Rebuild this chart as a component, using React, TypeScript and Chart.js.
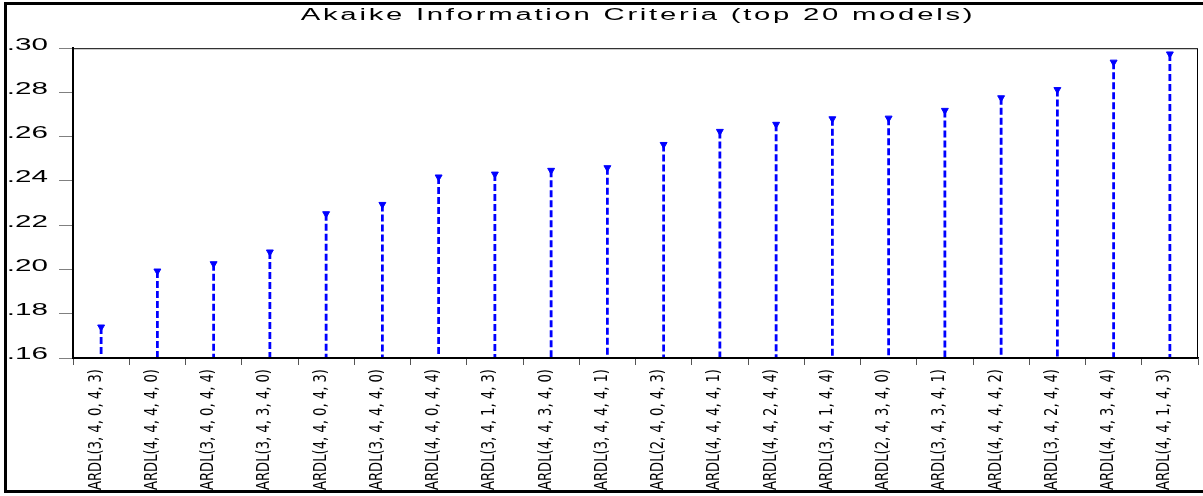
import React, { useEffect, useRef } from 'react';
import { Chart, registerables, LinearScale, CategoryScale } from 'chart.js';

Chart.register(...registerables);

// ---------- data ----------
const models: string[] = [
  'ARDL(3, 4, 0, 4, 3)', 'ARDL(4, 4, 4, 4, 0)', 'ARDL(3, 4, 0, 4, 4)', 'ARDL(3, 4, 3, 4, 0)',
  'ARDL(4, 4, 0, 4, 3)', 'ARDL(3, 4, 4, 4, 0)', 'ARDL(4, 4, 0, 4, 4)', 'ARDL(3, 4, 1, 4, 3)',
  'ARDL(4, 4, 3, 4, 0)', 'ARDL(3, 4, 4, 4, 1)', 'ARDL(2, 4, 0, 4, 3)', 'ARDL(4, 4, 4, 4, 1)',
  'ARDL(4, 4, 2, 4, 4)', 'ARDL(3, 4, 1, 4, 4)', 'ARDL(2, 4, 3, 4, 0)', 'ARDL(3, 4, 3, 4, 1)',
  'ARDL(4, 4, 4, 4, 2)', 'ARDL(3, 4, 2, 4, 4)', 'ARDL(4, 4, 3, 4, 4)', 'ARDL(4, 4, 1, 4, 3)',
];

const aicValues: number[] = [
  0.1740, 0.1993, 0.2026, 0.2079, 0.2252, 0.2294, 0.2418, 0.2431, 0.2448, 0.2460,
  0.2565, 0.2624, 0.2656, 0.2681, 0.2684, 0.2719, 0.2776, 0.2813, 0.2937, 0.2974,
];

const yTickValues: number[] = [0.16, 0.18, 0.20, 0.22, 0.24, 0.26, 0.28, 0.30];
const yMin = 0.16;
const yMax = 0.30;
const titleText = 'Akaike Information Criteria (top 20 models)';

// ---------- styling constants ----------
const TITLE_STRETCH = 1.83;
const TITLE_CENTER_X = 638;
const TITLE_LETTER_SPACING = '1.5px';
const Y_LABEL_STRETCH = 1.85;
const X_LABEL_SQUEEZE = 0.86;

class WideLinearScale extends LinearScale {
  static id = 'wideLinear';
  static defaults = LinearScale.defaults;
  drawLabels(chartArea: any) {
    const ctx = (this as any).ctx as CanvasRenderingContext2D;
    const opts = (this as any).options;
    const x0 = (this as any).right - opts.grid.tickLength - opts.ticks.padding;
    const savedLeft = (this as any).left;
    (this as any).left = -1000;
    ctx.save();
    ctx.translate(x0, 0);
    ctx.scale(Y_LABEL_STRETCH, 1);
    ctx.translate(-x0, 0);
    // @ts-ignore
    super.drawLabels(chartArea);
    ctx.restore();
    (this as any).left = savedLeft;
  }
}

class NarrowCategoryScale extends CategoryScale {
  static id = 'narrowCategory';
  static defaults = CategoryScale.defaults;
  drawLabels(chartArea: any) {
    const ctx = (this as any).ctx as CanvasRenderingContext2D;
    const opts = (this as any).options;
    const y0 = (this as any).top + opts.grid.tickLength + opts.ticks.padding;
    const savedBottom = (this as any).bottom;
    (this as any).bottom = 5000;
    ctx.save();
    ctx.translate(0, y0);
    ctx.scale(1, X_LABEL_SQUEEZE);
    ctx.translate(0, -y0);
    // @ts-ignore
    super.drawLabels(chartArea);
    ctx.restore();
    (this as any).bottom = savedBottom;
  }
}
Chart.register(WideLinearScale as any, NarrowCategoryScale as any);

const titleStretchPlugin = {
  id: 'titleStretch',
  beforeDraw(chart: any) {
    const ctx = chart.ctx as CanvasRenderingContext2D;
    const tb = chart.titleBlock;
    ctx.save();
    if (tb) {
      const cx = (tb.left + tb.right) / 2;
      ctx.translate(TITLE_CENTER_X, 0);
      ctx.scale(TITLE_STRETCH, 1);
      ctx.translate(-cx, 0);
    }
    (ctx as any).letterSpacing = TITLE_LETTER_SPACING;
  },
  beforeDatasetsDraw(chart: any) {
    chart.ctx.restore();
  },
};

const framePlugin = {
  id: 'plotFrame',
  afterDraw(chart: any) {
    const { ctx, chartArea } = chart;
    ctx.save();
    ctx.strokeStyle = '#000';
    ctx.lineWidth = 1;
    ctx.strokeRect(chartArea.left + 0.5, chartArea.top + 0.5, chartArea.right - chartArea.left - 1, chartArea.bottom - chartArea.top);
    ctx.restore();
  },
};

export default function App() {
  const canvasRef = useRef<HTMLCanvasElement | null>(null);

  useEffect(() => {
    if (!canvasRef.current) return;
    const stemPoints: any[] = [];
    models.forEach((m, i) => {
      stemPoints.push({ x: m, y: aicValues[i] });
      stemPoints.push({ x: m, y: yMin });
      stemPoints.push({ x: m, y: null });
    });

    const chart = new Chart(canvasRef.current, {
      type: 'line',
      data: {
        labels: models,
        datasets: [
          {
            label: 'stems',
            data: stemPoints,
            borderColor: '#0000FF',
            borderWidth: 2.8,
            borderDash: [7, 3],
            borderCapStyle: 'butt',
            pointRadius: 0,
            spanGaps: false,
            fill: false,
          } as any,
          {
            label: 'AIC',
            data: aicValues,
            showLine: false,
            pointStyle: 'triangle',
            rotation: 180,
            pointRadius: 4,
            pointBackgroundColor: '#0000FF',
            pointBorderColor: '#0000FF',
            pointBorderWidth: 1,
          } as any,
        ],
      },
      options: {
        animation: false,
        responsive: false,
        events: [],
        layout: { padding: { left: 0, right: 4, top: 0, bottom: 0 } },
        plugins: {
          legend: { display: false },
          tooltip: { enabled: false },
          title: {
            display: true,
            text: titleText,
            color: '#000',
            font: { family: '"Liberation Sans", Arial, sans-serif', size: 16, weight: 'normal' },
            padding: { top: 6, bottom: 23 },
          },
        },
        scales: {
          x: {
            type: 'narrowCategory' as any,
            offset: true,
            grid: { offset: true, drawOnChartArea: false, drawTicks: true, tickLength: 7, color: '#555', z: 1 },
            border: { display: true, color: '#000', width: 1.5, z: 1 },
            ticks: {
              autoSkip: false,
              maxRotation: 90,
              minRotation: 90,
              color: '#000',
              padding: 4,
              labelOffset: -5,
              z: 1,
              font: { family: '"Liberation Sans Narrow", "DejaVu Sans Condensed", sans-serif', size: 17 },
            },
            afterFit(s: any) {
              s.height = 132;
              s.paddingLeft = 0;
              s.paddingRight = 0;
            },
          },
          y: {
            type: 'wideLinear' as any,
            min: yMin,
            max: yMax,
            grid: { drawOnChartArea: false, drawTicks: true, tickLength: 14, color: '#808080', z: 1 },
            border: { display: true, color: '#000', width: 2, z: 1 },
            ticks: {
              color: '#000',
              padding: 11,
              labelOffset: -3,
              z: 1,
              font: { family: '"Liberation Sans", Arial, sans-serif', size: 16 },
              callback: (v: any) => Number(v).toFixed(2).replace(/^0/, ''),
            },
            afterBuildTicks(s: any) {
              s.ticks = yTickValues.map((v) => ({ value: v }));
            },
            afterFit(s: any) {
              s.width = 73;
            },
          },
        },
      },
      plugins: [titleStretchPlugin, framePlugin],
    } as any);

    return () => chart.destroy();
  }, []);

  return (
    <div style={{ position: 'fixed', left: 0, top: 0, width: 1203, height: 496, background: '#fff', overflow: 'hidden' }}>
      <canvas ref={canvasRef} width={1203} height={490} style={{ position: 'absolute', left: 0, top: 0, width: 1203, height: 490 }} />
      <div
        style={{
          position: 'absolute',
          left: 4,
          top: 2,
          width: 1210,
          height: 491,
          boxSizing: 'border-box',
          border: '3px solid #000',
          pointerEvents: 'none',
        }}
      />
    </div>
  );
}
